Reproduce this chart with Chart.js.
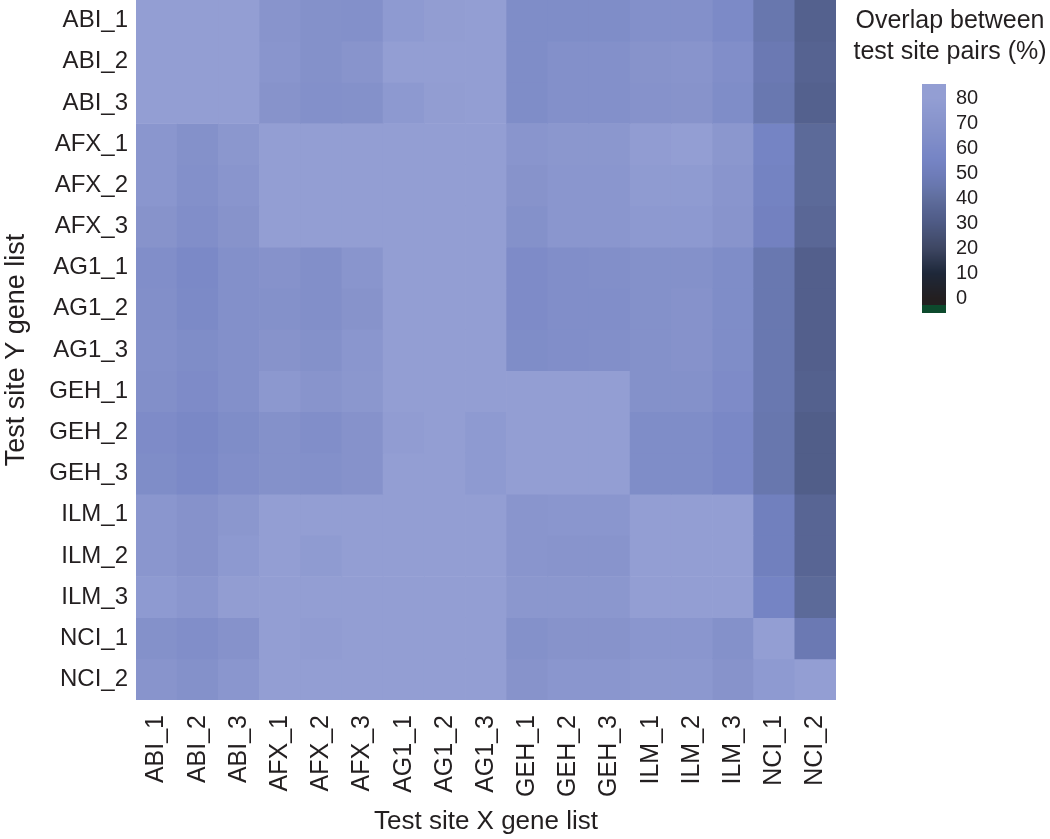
<!DOCTYPE html>
<html>
<head>
<meta charset="utf-8">
<script src="https://cdn.jsdelivr.net/npm/chart.js@4.4.0/dist/chart.umd.min.js"></script>
<style>
  html, body { margin: 0; padding: 0; background: #fff; }
  #wrap { width: 1050px; height: 839px; }
</style>
</head>
<body>
<div id="wrap"><canvas id="heat"></canvas></div>
<script>
// test site gene lists, same order on both axes
const sites = ['ABI_1', 'ABI_2', 'ABI_3', 'AFX_1', 'AFX_2', 'AFX_3', 'AG1_1', 'AG1_2', 'AG1_3',
               'GEH_1', 'GEH_2', 'GEH_3', 'ILM_1', 'ILM_2', 'ILM_3', 'NCI_1', 'NCI_2'];

// overlap (%) - one row per Y site, columns follow X sites
const overlap = [
  [86, 82, 82, 70, 67, 66, 76, 79, 80, 63, 63, 63, 66, 66, 61, 45, 34], // ABI_1
  [82, 86, 82, 71, 67, 70, 80, 81, 81, 63, 66, 66, 69, 70, 64, 47, 35], // ABI_2
  [82, 82, 86, 69, 66, 67, 75, 79, 80, 63, 66, 66, 68, 69, 63, 46, 34], // ABI_3
  [72, 67, 73, 86, 82, 82, 81, 81, 80, 71, 73, 73, 78, 80, 73, 55, 38], // AFX_1
  [72, 66, 71, 82, 86, 82, 81, 81, 81, 69, 72, 72, 77, 77, 71, 54, 38], // AFX_2
  [69, 64, 69, 82, 82, 86, 81, 80, 80, 67, 72, 72, 75, 75, 70, 53, 37], // AFX_3
  [64, 60, 66, 68, 65, 71, 86, 82, 82, 62, 64, 65, 67, 67, 63, 46, 33], // AG1_1
  [65, 61, 66, 67, 65, 69, 82, 86, 82, 62, 64, 64, 67, 68, 63, 46, 33], // AG1_2
  [66, 63, 66, 69, 67, 72, 82, 82, 86, 63, 64, 65, 67, 68, 63, 46, 33], // AG1_3
  [65, 62, 66, 74, 70, 73, 80, 80, 80, 86, 82, 82, 67, 67, 62, 46, 34], // GEH_1
  [62, 59, 63, 67, 64, 68, 78, 80, 76, 82, 86, 82, 63, 63, 59, 45, 32], // GEH_2
  [63, 60, 64, 67, 66, 68, 80, 80, 76, 82, 82, 86, 63, 63, 59, 45, 32], // GEH_3
  [72, 68, 73, 80, 80, 80, 80, 80, 80, 71, 72, 72, 86, 82, 82, 52, 36], // ILM_1
  [72, 68, 75, 80, 77, 80, 80, 80, 80, 71, 70, 70, 82, 86, 82, 52, 36], // ILM_2
  [76, 72, 79, 80, 80, 80, 80, 80, 80, 73, 73, 73, 82, 82, 86, 55, 38], // ILM_3
  [67, 64, 68, 80, 78, 80, 80, 80, 80, 67, 69, 69, 72, 72, 67, 86, 47], // NCI_1
  [70, 67, 72, 80, 80, 80, 80, 80, 80, 69, 72, 72, 74, 74, 69, 76, 86]  // NCI_2
];

const legendTicks = [80, 70, 60, 50, 40, 30, 20, 10, 0];

// colour scale, value -> rgb
const stopValues = [0, 10, 20, 30, 35, 40, 45, 50, 55, 60, 65, 70, 75, 80];
const stopColours = [
  [35, 31, 32], [30, 40, 58], [62, 71, 99], [78, 90, 132], [86, 99, 145], [96, 110, 158],
  [104, 119, 174], [111, 125, 186], [117, 132, 196], [123, 137, 199], [130, 143, 201],
  [136, 148, 204], [141, 153, 208], [147, 158, 211]
];
const belowColour = '#0d4a2d';
const textColour = '#231f20';
const fontFamily = '"Liberation Sans", Arial, Helvetica, sans-serif';

function colourFor(v) {
  if (v >= stopValues[stopValues.length - 1]) {
    const c = stopColours[stopColours.length - 1];
    return `rgb(${c[0]},${c[1]},${c[2]})`;
  }
  if (v <= stopValues[0]) {
    const c = stopColours[0];
    return `rgb(${c[0]},${c[1]},${c[2]})`;
  }
  let i = 0;
  while (stopValues[i + 1] < v) i++;
  const t = (v - stopValues[i]) / (stopValues[i + 1] - stopValues[i]);
  const a = stopColours[i], b = stopColours[i + 1];
  const mix = k => Math.round(a[k] + (b[k] - a[k]) * t);
  return `rgb(${mix(0)},${mix(1)},${mix(2)})`;
}

// colour bar legend on the right
const colourBar = {
  id: 'colourBar',
  afterDraw(chart) {
    const ctx = chart.ctx;
    const area = chart.chartArea;
    const barX = area.right + 86;
    const barW = 24;
    const top = 84, bottom = 313;
    const pxPerUnit = 2.5;
    const y80 = 98;
    const valueAt = y => 80 - (y - y80) / pxPerUnit;

    ctx.save();
    for (let y = top; y < bottom; y++) {
      const v = valueAt(y + 0.5);
      ctx.fillStyle = v < -2.6 ? belowColour : colourFor(v);
      ctx.fillRect(barX, y, barW, 1);
    }

    ctx.fillStyle = textColour;
    ctx.font = '20px ' + fontFamily;
    ctx.textAlign = 'left';
    ctx.textBaseline = 'middle';
    legendTicks.forEach(t => {
      ctx.fillText(String(t), barX + 34, y80 + (80 - t) * pxPerUnit);
    });

    ctx.font = '25px ' + fontFamily;
    ctx.textAlign = 'center';
    ctx.fillText('Overlap between', area.right + 114, 21);
    ctx.fillText('test site pairs (%)', area.right + 114, 52);
    ctx.restore();
  }
};

const datasets = overlap.map((row, r) => ({
  label: sites[r],
  data: sites.map(() => 1),
  backgroundColor: row.map(colourFor),
  borderWidth: 0,
  barPercentage: 1,
  categoryPercentage: 1
}));

const chart = new Chart(document.getElementById('heat'), {
  type: 'bar',
  data: { labels: sites, datasets },
  plugins: [colourBar],
  options: {
    responsive: true,
    maintainAspectRatio: false,
    animation: false,
    layout: { padding: { top: 0, right: 214, bottom: 0, left: 0 } },
    plugins: {
      legend: { display: false },
      tooltip: { enabled: false }
    },
    scales: {
      x: {
        stacked: true,
        grid: { display: false, drawTicks: false },
        border: { display: false },
        ticks: {
          autoSkip: false,
          maxRotation: 90,
          minRotation: 90,
          padding: 15,
          color: textColour,
          font: { family: fontFamily, size: 25 }
        },
        title: {
          display: true,
          text: 'Test site X gene list',
          color: textColour,
          font: { family: fontFamily, size: 26 },
          padding: { top: 4, bottom: 2 }
        },
        afterFit: scale => {
          scale.height = 139;
          scale.paddingLeft = 0;
          scale.paddingRight = 0;
        }
      },
      y: {
        stacked: true,
        reverse: true,
        min: 0,
        max: sites.length,
        grid: { display: false, drawTicks: false },
        border: { display: false },
        afterBuildTicks: axis => {
          axis.ticks = sites.map((s, i) => ({ value: i + 0.5 }));
        },
        ticks: {
          autoSkip: false,
          padding: 8,
          color: textColour,
          font: { family: fontFamily, size: 24 },
          callback: (value, index) => sites[index]
        },
        title: {
          display: true,
          text: 'Test site Y gene list',
          color: textColour,
          font: { family: fontFamily, size: 27 },
          padding: { top: 0, bottom: 0 }
        },
        afterFit: scale => {
          scale.width = 136;
          scale.paddingTop = 0;
          scale.paddingBottom = 0;
        }
      }
    }
  }
});
</script>
</body>
</html>
